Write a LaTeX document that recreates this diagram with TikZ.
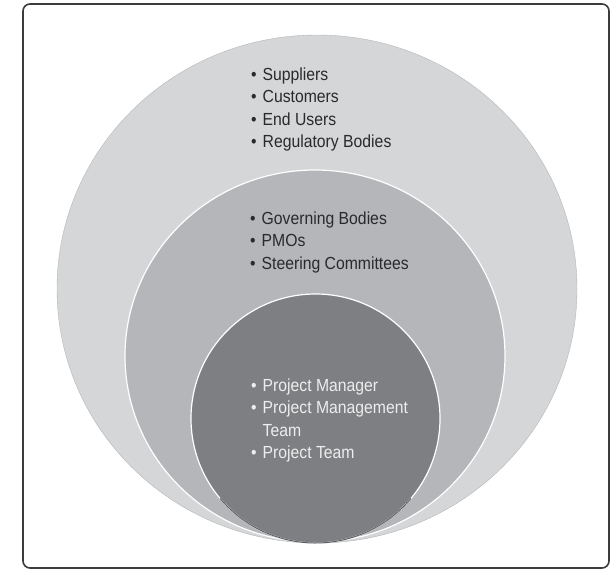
\documentclass[tikz,border=0pt]{standalone}
\usepackage{fontspec}
\setmainfont[FakeStretch=0.9]{Liberation Sans}
\definecolor{ringout}{HTML}{D5D6D8}
\definecolor{ringmid}{HTML}{B5B6B9}
\definecolor{ringin}{HTML}{7E7F83}
\definecolor{ringedge}{HTML}{5E5F63}
\definecolor{inktext}{HTML}{2A2A2C}
\definecolor{framegray}{HTML}{3C3C3C}
\begin{document}
\begin{tikzpicture}[x=1pt,y=-1pt,
   listtext/.style={anchor=base west,inner sep=0pt,font=\fontsize{17.5}{22.5}\selectfont},
   rim/.style={draw=white,line width=1.2pt}]
   \useasboundingbox (0,0) rectangle (613,570);
   \draw[color=framegray,line width=1.6pt,rounded corners=7pt] (23,4) rectangle (609,568);
   % rings, all touching at the bottom
   \fill[color=ringout] (317,289) ellipse [x radius=260, y radius=254];
   \draw[color=ringout!85!black,line width=0.4pt] (317,289) ellipse [x radius=260, y radius=254];
   \draw[fill=ringmid,rim] (315,356) ellipse [x radius=190, y radius=186];
   \draw[fill=ringin,rim] (315.5,418.5) circle [radius=124.5];
   \draw[color=ringedge,line width=1pt] (315.5,418.5) ++(40:124.5) arc (40:140:124.5);
   % the three lists
   \node[listtext,text=inktext] (outerlist) at (251,80) {\begin{tabular}[t]{@{}l@{\hspace{6pt}}l@{}}
      \textbullet & Suppliers\\
      \textbullet & Customers\\
      \textbullet & End Users\\
      \textbullet & Regulatory Bodies
   \end{tabular}};
   \node[listtext,text=inktext] (midlist) at (250,224) {\begin{tabular}[t]{@{}l@{\hspace{6pt}}l@{}}
      \textbullet & Governing Bodies\\
      \textbullet & PMOs\\
      \textbullet & Steering Committees
   \end{tabular}};
   \node[listtext,text=white!93!black] (innerlist) at (251,391) {\begin{tabular}[t]{@{}l@{\hspace{6pt}}l@{}}
      \textbullet & Project Manager\\
      \textbullet & Project Management\\
                  & Team\\
      \textbullet & Project Team
   \end{tabular}};
\end{tikzpicture}
\end{document}
